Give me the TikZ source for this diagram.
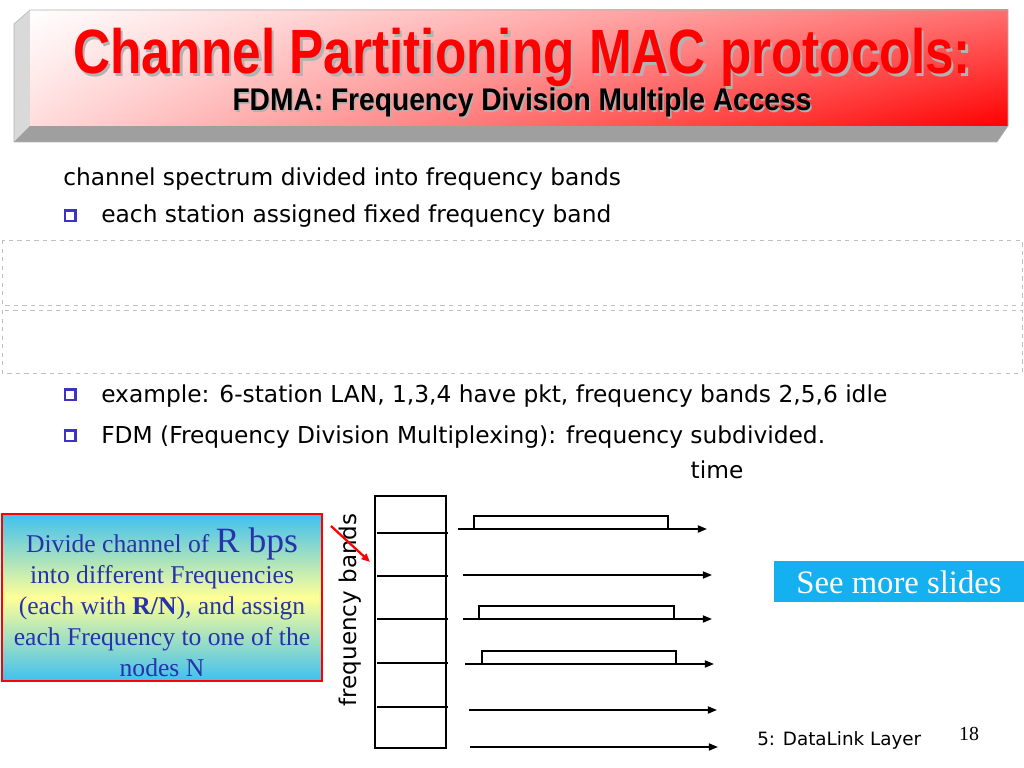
\documentclass[tikz,border=0pt]{standalone}
\usepackage{fontspec}
\setmainfont{Liberation Serif}
\setsansfont{DejaVu Sans}
\newfontfamily\titlefont{Liberation Sans}
\usetikzlibrary{positioning,shadings,arrows.meta}
\definecolor{bulletblue}{RGB}{60,50,200}
\definecolor{infoblue}{RGB}{64,192,240}
\definecolor{infoyellow}{RGB}{255,255,150}
\definecolor{infotext}{RGB}{40,50,170}
\definecolor{morecyan}{RGB}{20,176,240}
\definecolor{titlepink}{RGB}{255,110,110}
\definecolor{titlerose}{RGB}{255,220,220}
\begin{document}
\begin{tikzpicture}[x=0.703125pt, y=-0.703125pt,
  body/.style={font=\sffamily\fontsize{16.4}{20}\selectfont, anchor=base west, inner sep=0pt},
  band/.style={line width=1.3pt},
  axis/.style={line width=1.3pt, -{Triangle[length=6.5pt, width=5pt]}},
  pkt/.style={line width=1.3pt}]
\useasboundingbox (0,0) rectangle (1024,768);
% title box
\fill[gray!30] (14,24) -- (30,10) -- (30,126) -- (14,142) -- cycle;
\fill[gray!75] (14,142) -- (30,126) -- (1008,126) -- (997,142) -- cycle;
\shade[upper left=white, upper right=titlepink, lower left=titlerose, lower right=red] (30,10) rectangle (1008,126);
\draw[gray!60, line width=0.4pt] (14,24) -- (30,10) -- (1008,10) -- (1008,126) -- (997,142) -- (14,142) -- cycle;
\node[font=\titlefont\bfseries\fontsize{44}{50}\selectfont, text=gray!60, anchor=base] (titleshadow) at (524.5,76.5) {\scalebox{0.82}[1]{Channel Partitioning MAC protocols:}};
\node[font=\titlefont\bfseries\fontsize{44}{50}\selectfont, text=red, anchor=base] (title) at (522,74) {\scalebox{0.82}[1]{Channel Partitioning MAC protocols:}};
\node[font=\titlefont\bfseries\fontsize{22}{26}\selectfont, text=gray!60, anchor=base] (subshadow) at (523.5,112.5) {\scalebox{0.9}[1]{FDMA: Frequency Division Multiple Access}};
\node[font=\titlefont\bfseries\fontsize{22}{26}\selectfont, anchor=base] (subtitle) at (522,111) {\scalebox{0.9}[1]{FDMA: Frequency Division Multiple Access}};
% body text
\node[body] (intro) at (63,186) {channel spectrum divided into frequency bands};
\node[body] (item1) at (101,223) {each station assigned fixed frequency band};
\node[body] (item2) at (101,402) {example: 6-station LAN, 1,3,4 have pkt, frequency bands 2,5,6 idle};
\node[body] (item3) at (101,443) {FDM (Frequency Division Multiplexing): frequency subdivided.};
\foreach \yb in {216,395,436} {
  \fill[bulletblue] (64,\yb-7) rectangle (77,\yb+6);
  \fill[white] (66,\yb-4) rectangle (74,\yb+4);
}
\draw[gray!50, dashed, line width=0.5pt] (2,240) rectangle (1022,305);
\draw[gray!50, dashed, line width=0.5pt] (2,310) rectangle (1022,373);
% FDM diagram
\node[body, anchor=base] (timelbl) at (717,478) {time};
\draw[band] (375,496) rectangle (446,748);
\foreach \ya in {533,576,619,663,707}
  \draw[band] (377,\ya) -- (448,\ya);
\foreach \ya/\xa/\xb in {529/458/707, 575/463/712, 619/463/712, 664/465/714, 710/469/717, 747/470/718}
  \draw[axis] (\xa,\ya) -- (\xb,\ya);
\foreach \ya/\xa/\xb/\yt in {529/474/668/516, 619/479/674/606, 664/482/676/651}
  \draw[pkt] (\xa,\ya) -- (\xa,\yt) -- (\xb,\yt) -- (\xb,\ya);
\node[font=\sffamily\fontsize{16.2}{20}\selectfont, rotate=90] (freqlbl) at (350,610) {frequency bands};
\coordinate (redtail) at (331,526);
\coordinate (redtip) at (370,562);
\draw[red, line width=1.6pt, -{Triangle[length=6pt, width=5pt]}] (redtail) -- (redtip);
% info box
\shade[top color=infoblue, bottom color=infoblue, middle color=infoyellow] (2,514) rectangle (322,681);
\draw[red, line width=2pt] (2,514) rectangle (322,681);
\node[align=center, text=infotext, font=\fontsize{18}{21.8}\selectfont, inner sep=0pt] (info) at (162,602)
  {Divide channel of {\fontsize{25}{21.8}\selectfont R bps}\\into different Frequencies\\(each with \textbf{R/N}), and assign\\each Frequency to one of the\\nodes N};
% see more
\fill[morecyan] (774,561) rectangle (1024,602);
\node[text=white, font=\fontsize{23}{26}\selectfont, inner sep=0pt] (more) at (899,582) {See more slides};
% footer
\node[font=\sffamily\fontsize{12.9}{15}\selectfont, anchor=base west, inner sep=0pt] (footer) at (757,745) {5: DataLink Layer};
\node[font=\fontsize{14}{16}\selectfont, anchor=base, inner sep=0pt] (pagenum) at (969,740) {18};
\end{tikzpicture}
\end{document}
